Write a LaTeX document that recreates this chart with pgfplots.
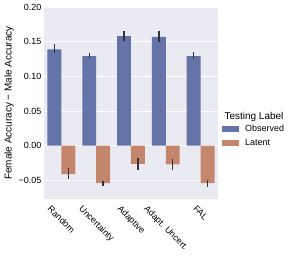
\documentclass[border=0pt]{standalone}
\usepackage{pgfplots}
\pgfplotsset{compat=1.18}
\usepackage{fontspec}
\setmainfont{Liberation Sans}
\definecolor{obs}{RGB}{102,115,168}
\definecolor{lat}{RGB}{196,135,110}
\definecolor{bg}{RGB}{234,234,242}
\definecolor{err}{RGB}{50,50,50}
\newlength\labc
\newsavebox\labbox
\newcommand\rotlab[1]{\sbox\labbox{#1}\setlength\labc{\dimexpr(\wd\labbox+\ht\labbox+\dp\labbox)/4+4.2bp\relax}\hspace*{2\labc}\rule{0pt}{\dimexpr\ht\labbox+2\labc\relax}\usebox\labbox}
\newcommand\fs{\fontsize{9}{11}\selectfont}
\newcommand\fl{\fontsize{10}{12}\selectfont}
\begin{document}
\begin{tikzpicture}
\begin{axis}[
  scale only axis, width=174bp, height=192bp,
  xmin=-0.5, xmax=4.5, ymin=-0.077, ymax=0.2,
  clip=false,
  axis background/.style={fill=bg},
  axis line style={draw=none},
  major tick length=0pt,
  ytick={-0.05,0,0.05,0.1,0.15,0.2},
  yticklabels={−0.05,0.00,0.05,0.10,0.15,0.20},
  xtick={0,1,2,3,4},
  xticklabels={\rotlab{Random},\rotlab{Uncertainty},\rotlab{Adaptive},\rotlab{Adapt. Uncert.},\rotlab{FAL}},
  xticklabel style={rotate=-45, anchor=center, inner sep=0pt},
  yticklabel style={inner sep=2.5bp},
  ymajorgrids, grid style={white, line width=0.9bp},
  ylabel={Female Accuracy − Male Accuracy},
  ylabel style={yshift=-1bp},
  tick label style={font=\fs},
  label style={font=\fl},
  ybar=0pt, bar width=0.4,
  legend style={draw=none, fill=none, at={(1.023,0.328)}, anchor=west, inner sep=0pt, font=\fs, row sep=2bp},
  legend cell align=left,
  error bars/y dir=both, error bars/y explicit,
  error bars/error mark=none,
  error bars/error bar style={line width=1.4bp, color=err},
]
\addplot[fill=obs, draw=none, legend image code/.code={\fill[obs] (0bp,-2.8bp) rectangle (17bp,2.8bp); \path (21bp,0bp);}] coordinates {
  (0,0.139) += (0,0.007) -= (0,0.006)
  (1,0.129) += (0,0.005) -= (0,0.002)
  (2,0.158) += (0,0.008) -= (0,0.007)
  (3,0.157) += (0,0.008) -= (0,0.008)
  (4,0.129) += (0,0.006) -= (0,0.004)
};
\addplot[fill=lat, draw=none, legend image code/.code={\fill[lat] (0bp,-2.8bp) rectangle (17bp,2.8bp); \path (21bp,0bp);}] coordinates {
  (0,-0.041) += (0,0.009) -= (0,0.007)
  (1,-0.054) += (0,0.003) -= (0,0.004)
  (2,-0.0265) += (0,0.0085) -= (0,0.0085)
  (3,-0.027) += (0,0.008) -= (0,0.008)
  (4,-0.054) += (0,0.005) -= (0,0.005)
};
\legend{Observed, Latent}
\node[font=\fl, anchor=center] at (axis description cs:1.207,0.427) {Testing Label};
\end{axis}
\path[use as bounding box] (current axis.south west) ++(-44bp,-61bp) rectangle ++(295bp,260bp);
\end{tikzpicture}
\end{document}
